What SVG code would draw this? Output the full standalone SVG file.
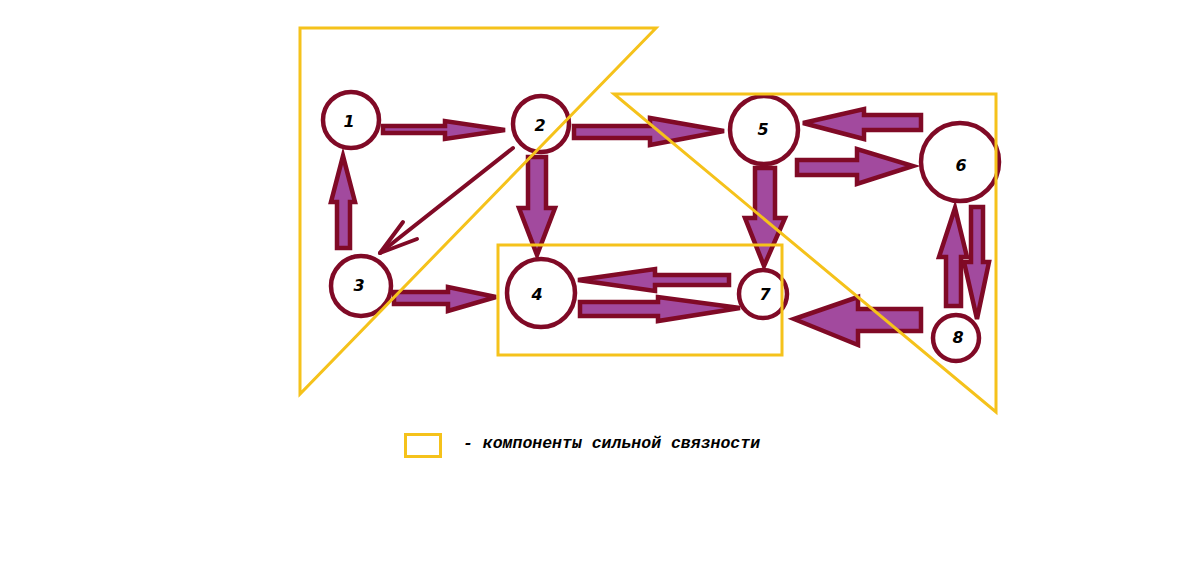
<svg xmlns="http://www.w3.org/2000/svg" width="1192" height="577" viewBox="0 0 1192 577">
<style>
.node circle{fill:#fff;stroke:#800A26;stroke-width:4.5}
.node text{font-family:"DejaVu Sans",Verdana,sans-serif;font-size:16px;font-weight:bold;font-style:italic;fill:#000;text-anchor:middle;dominant-baseline:central}
.arr{fill:#A24A9E;stroke:#800A26;stroke-width:4.5;stroke-linejoin:miter}
.thin{fill:none;stroke:#800A26;stroke-width:4;stroke-linecap:round}
.scc{fill:none;stroke:#F5C21B;stroke-width:3}
.legend{font-family:"Liberation Mono","Courier New",monospace;font-size:16.5px;font-weight:bold;font-style:italic;fill:#000}
</style>
<rect width="1192" height="577" fill="#fff"/>
<g id="connectors">
<polygon class="arr" points="383,126 445,126 445,121 505,130 445,139 445,133 383,133"/>
<polygon class="arr" points="574,126 650,126 650,118 724,131 650,145 650,138 574,138"/>
<polygon class="arr" points="528,157 546,157 546,208 555,208 537,255 519,208 528,208"/>
<polygon class="arr" points="337,248 337,202 331,202 343,156 355,202 350,202 350,248"/>
<polygon class="arr" points="394,292 448,292 448,287 496,297 448,311 448,304 394,304"/>
<polygon class="arr" points="729,275 655,275 655,269 578,280 655,291 655,285 729,285"/>
<polygon class="arr" points="580,302 658,302 658,297 740,308 658,321 658,316 580,316"/>
<polygon class="arr" points="755,168 775,168 775,218 785,218 764,266 745,218 755,218"/>
<polygon class="arr" points="921,115 864,115 864,109 803,123 864,139 864,130 921,130"/>
<polygon class="arr" points="797,160 857,160 857,149 913,166 857,184 857,175 797,175"/>
<polygon class="arr" points="946,306 946,257 939,257 955,208 967,257 961,257 961,306"/>
<polygon class="arr" points="971,207 983,207 983,262 989,262 977,319 964,262 971,262"/>
<polygon class="arr" points="921,309 858,309 858,297 794,319 858,345 858,331 921,331"/>
<g class="thin">
<line x1="513" y1="148" x2="380" y2="253"/>
<line x1="403" y1="222" x2="380" y2="253"/>
<line x1="417" y1="239" x2="380" y2="253"/>
</g>
</g>
<g id="n1" class="node"><circle cx="351" cy="120" r="28"/><text x="349" y="121">1</text></g>
<g id="n2" class="node"><circle cx="541" cy="124" r="28"/><text x="540" y="125">2</text></g>
<g id="n3" class="node"><circle cx="361" cy="286" r="30"/><text x="359" y="285">3</text></g>
<g id="n4" class="node"><circle cx="541" cy="293" r="34"/><text x="537" y="294">4</text></g>
<g id="n5" class="node"><circle cx="764" cy="130" r="34"/><text x="763" y="129">5</text></g>
<g id="n6" class="node"><circle cx="960" cy="162" r="39"/><text x="961" y="165">6</text></g>
<g id="n7" class="node"><circle cx="763" cy="294" r="24"/><text x="765" y="294">7</text></g>
<g id="n8" class="node"><circle cx="956" cy="338" r="23"/><text x="958" y="337">8</text></g>
<g id="scc">
<polygon class="scc" points="300,28 656,28 300,394"/>
<polygon class="scc" points="614,94 996,94 996,412"/>
<rect class="scc" x="498" y="245" width="284" height="110"/>
</g>
<g id="legend">
<rect class="scc" x="405.5" y="434.5" width="35" height="22"/>
<text class="legend" x="463" y="448">- компоненты сильной связности</text>
</g>
</svg>
